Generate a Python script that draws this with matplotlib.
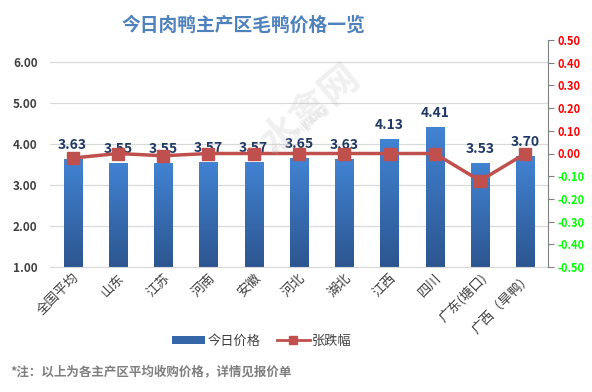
import numpy as np
import matplotlib
matplotlib.use('Agg')
import matplotlib.pyplot as plt
from matplotlib.colors import LinearSegmentedColormap
from matplotlib.patches import Patch
from matplotlib.lines import Line2D

plt.rcParams['font.family'] = ['Noto Sans CJK SC', 'DejaVu Sans']

# ---------------- data ----------------
regions = ['全国平均', '山东', '江苏', '河南', '安徽', '河北', '湖北', '江西', '四川', '广东(塘口)', '广西（旱鸭）']
prices = [3.63, 3.55, 3.55, 3.57, 3.57, 3.65, 3.63, 4.13, 4.41, 3.53, 3.70]
changes = [-0.02, 0.00, -0.01, 0.00, 0.00, 0.00, 0.00, 0.00, 0.00, -0.12, 0.00]
left_ticks = [1, 2, 3, 4, 5, 6]
right_ticks = [-0.5, -0.4, -0.3, -0.2, -0.1, 0.0, 0.1, 0.2, 0.3, 0.4, 0.5]

bar_top = '#4283D3'
bar_bot = '#2C5690'
line_c = '#C0504D'
txt_c = '#404040'

fig = plt.figure(figsize=(5.92, 3.92), dpi=100)
ax = fig.add_axes([50/592, 1-267/392, 498/592, 227/392])
x = np.arange(len(regions))

# -------- bars with gradient --------
bars = ax.bar(x, prices, width=0.4, bottom=0, color=bar_top, zorder=2)
cmap = LinearSegmentedColormap.from_list('g', [bar_bot, bar_top])
grad = np.linspace(0, 1, 100).reshape(-1, 1)
for b in bars:
    x0, w, h = b.get_x(), b.get_width(), b.get_height()
    im = ax.imshow(grad, extent=[x0, x0 + w, 1, h], origin='lower', aspect='auto',
                   cmap=cmap, zorder=2.1)
    im.set_clip_path(b)

for xi, p in zip(x, prices):
    ax.annotate(f'{p:.2f}', (xi, p), xytext=(0, 5), textcoords='offset points',
                ha='center', va='bottom', fontsize=10, fontweight='bold',
                color='#1F3864', zorder=6)

ax.set_xlim(-0.5, len(regions) - 0.5)
ax.set_ylim(1, 6.54)
ax.set_yticks(left_ticks)
ax.set_yticklabels([f'{t:.2f}' for t in left_ticks], fontsize=8.5, fontweight='bold', color=txt_c)
ax.yaxis.grid(True, color='#D9D9D9', linewidth=0.9, zorder=0)
ax.set_axisbelow(True)
ax.tick_params(axis='y', length=0, pad=9)
ax.tick_params(axis='x', length=0, pad=3)
ax.set_xticks(x)
ax.set_xticklabels(regions, rotation=45, ha='right', rotation_mode='anchor',
                   fontsize=9.5, color=txt_c)
for s in ['top', 'left', 'right']:
    ax.spines[s].set_visible(False)
ax.spines['bottom'].set_color('#D9D9D9')

# -------- change line (right axis) --------
ax2 = ax.twinx()
ax2.plot(x, changes, color=line_c, linewidth=2.5, marker='s', markersize=8,
         markerfacecolor=line_c, markeredgecolor=line_c, zorder=5)
ax2.set_ylim(-0.5, 0.5)
ax2.set_yticks(right_ticks)
ax2.set_yticklabels([f'{t:.2f}' for t in right_ticks], fontsize=8, fontweight='bold')
for lab, t in zip(ax2.get_yticklabels(), right_ticks):
    lab.set_color('#FF0000' if t >= 0 else '#00FF00')
ax2.tick_params(axis='y', length=4, color='#808080', pad=3)
for s in ['top', 'left', 'bottom']:
    ax2.spines[s].set_visible(False)
ax2.spines['right'].set_color('#808080')

# -------- watermark --------
fig.text(310/592, 1-110/392, '水禽网', fontsize=28, color='#BBBBBB', alpha=0.22,
         rotation=40, ha='center', va='center', fontweight='bold')
fig.text(300/592, 1-130/392, 'SHUIQINWANG', fontsize=7, color='#BBBBBB', alpha=0.3,
         rotation=40, ha='center', va='center')

# -------- title / legend / note --------
fig.text(243/592, 1-25/392, '今日肉鸭主产区毛鸭价格一览', fontsize=13.5, fontweight='bold',
         color='#4F81BD', ha='center', va='center')

handles = [Patch(facecolor='#3466A8', edgecolor='none'),
           Line2D([0], [0], color=line_c, linewidth=2, marker='s', markersize=6)]
fig.legend(handles, ['今日价格', '张跌幅'], loc='center', bbox_to_anchor=(262/592, 1-341/392),
           ncol=2, frameon=False, fontsize=9.5, labelcolor=txt_c, handlelength=2.5,
           handleheight=0.5, columnspacing=1.2, handletextpad=0.2)

fig.text(10/592, 1-372/392, '*注：以上为各主产区平均收购价格，详情见报价单', fontsize=9,
         fontweight='bold', color='#7F7F7F', ha='left', va='center')

fig.savefig('out.png', dpi=100, facecolor='white')
